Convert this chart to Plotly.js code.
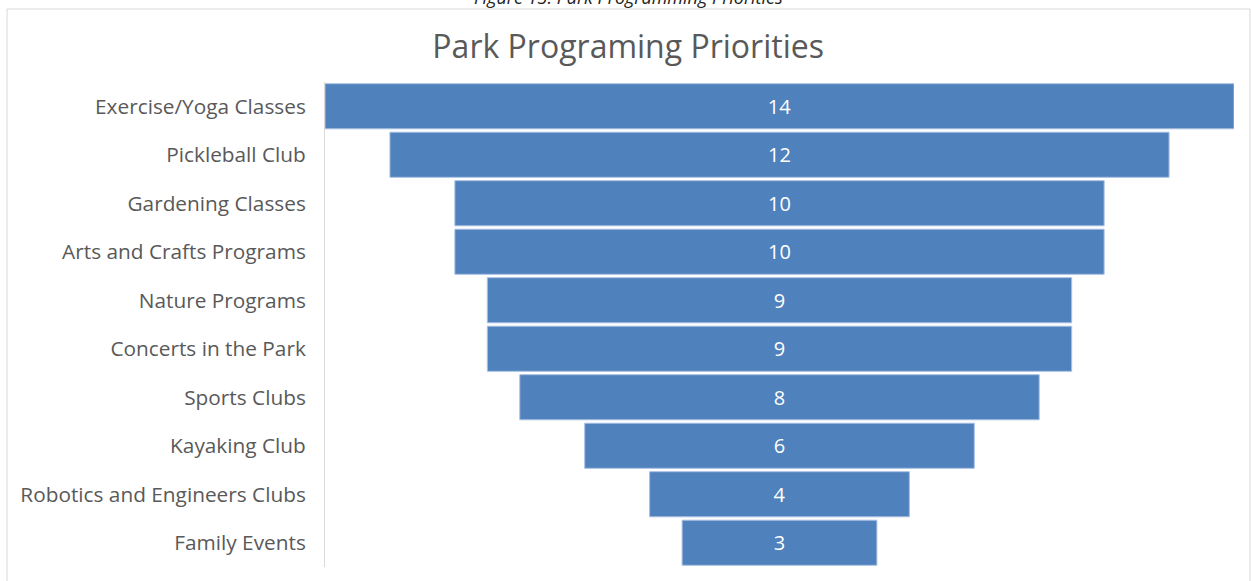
<!DOCTYPE html>
<html>
<head>
<meta charset="utf-8">
<script src="https://cdn.plot.ly/plotly-3.0.1.min.js"></script>
<style>
html,body{margin:0;padding:0;background:#fff;}
#chart{width:1251px;height:581px;}
</style>
</head>
<body>
<div id="chart"></div>
<script>
const programs = [
  "Exercise/Yoga Classes",
  "Pickleball Club",
  "Gardening Classes",
  "Arts and Crafts Programs",
  "Nature Programs",
  "Concerts in the Park",
  "Sports Clubs",
  "Kayaking Club",
  "Robotics and Engineers Clubs",
  "Family Events"
];
const votes = [14, 12, 10, 10, 9, 9, 8, 6, 4, 3];
const chartTitle = "Park Programing Priorities";
const figureCaption = "Figure 13: Park Programming Priorities";

const fontFam = "Open Sans, Noto Sans, sans-serif";

const trace = {
  type: "funnel",
  y: programs,
  x: votes,
  textinfo: "value",
  textposition: "inside",
  insidetextanchor: "middle",
  textfont: {family: fontFam, size: 20, color: "#ffffff"},
  marker: {color: "#4F81BD", line: {color: "#A9C0E2", width: 1}},
  connector: {visible: false},
  hoverinfo: "y+x"
};

const layout = {
  width: 1251,
  height: 581,
  margin: {l: 325, r: 17, t: 82, b: 14},
  paper_bgcolor: "#ffffff",
  plot_bgcolor: "#ffffff",
  showlegend: false,
  funnelgap: 0.07,
  title: {
    text: chartTitle,
    font: {family: fontFam, size: 32, color: "#595959"},
    x: 0.3335, xref: "paper", xanchor: "center",
    y: 0.919, yref: "container", yanchor: "middle"
  },
  xaxis: {
    range: [-7, 7],
    showticklabels: false,
    showgrid: false,
    zeroline: false,
    showline: false,
    fixedrange: true
  },
  yaxis: {
    showline: true,
    linecolor: "#D9D9D9",
    linewidth: 1,
    ticks: "",
    ticklabelstandoff: 14,
    tickfont: {family: fontFam, size: 20.8, color: "#595959"},
    showgrid: false,
    fixedrange: true
  },
  shapes: [{
    type: "rect",
    xref: "paper", yref: "paper",
    x0: -0.3498, x1: 1.0176,
    y0: -0.2, y1: 1.1505,
    line: {color: "#D9D9D9", width: 1},
    fillcolor: "rgba(0,0,0,0)",
    layer: "below"
  }],
  annotations: [{
    text: "<i>" + figureCaption + "</i>",
    xref: "paper", yref: "paper",
    x: 0.334, y: 1.176,
    xanchor: "center", yanchor: "middle",
    showarrow: false,
    font: {family: fontFam, size: 18, color: "#222222"}
  }]
};

Plotly.newPlot("chart", [trace], layout, {displayModeBar: false, staticPlot: true});
</script>
</body>
</html>
